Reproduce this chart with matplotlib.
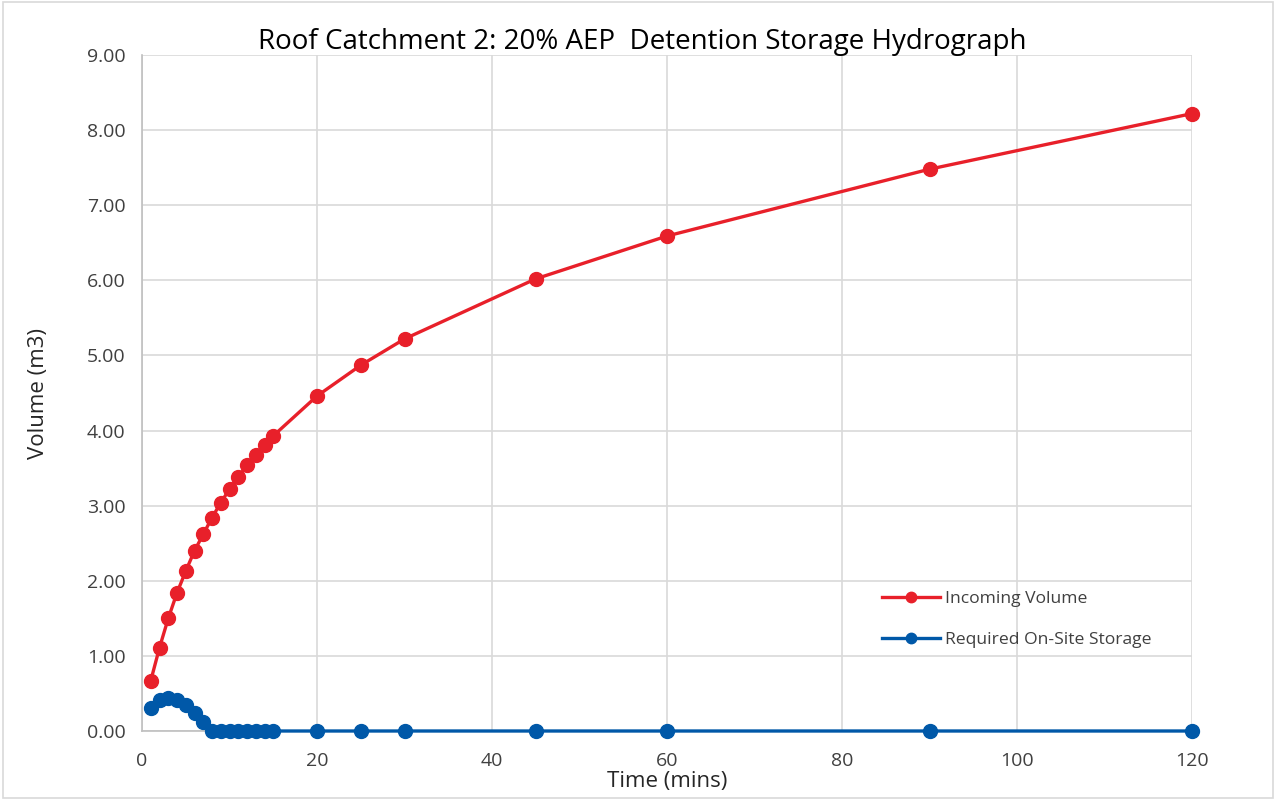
import matplotlib
matplotlib.use("Agg")
import matplotlib.pyplot as plt
from matplotlib.patches import Rectangle

plt.rcParams['font.family'] = ['Open Sans', 'DejaVu Sans']

time_mins = [1, 2, 3, 4, 5, 6, 7, 8, 9, 10, 11, 12, 13, 14, 15, 20, 25, 30, 45, 60, 90, 120]
incoming_volume = [0.67, 1.11, 1.50, 1.84, 2.13, 2.40, 2.62, 2.84, 3.04, 3.22, 3.38, 3.54,
                   3.68, 3.81, 3.93, 4.46, 4.87, 5.22, 6.02, 6.59, 7.48, 8.22]
required_storage = [0.31, 0.41, 0.44, 0.41, 0.35, 0.24, 0.12, 0.0, 0.0, 0.0, 0.0, 0.0,
                    0.0, 0.0, 0.0, 0.0, 0.0, 0.0, 0.0, 0.0, 0.0, 0.0]
x_ticks = [0, 20, 40, 60, 80, 100, 120]
y_ticks = [0, 1, 2, 3, 4, 5, 6, 7, 8, 9]

fig = plt.figure(figsize=(12.76, 8), dpi=100)
fig.patches.append(Rectangle((0.002, 0.002), 0.996, 0.996, transform=fig.transFigure,
                             fill=False, edgecolor='#d9d9d9', linewidth=1.2))
ax = fig.add_axes([0.1113, 0.08625, 0.8229, 0.845])

red = '#E8202A'
blue = '#0058A8'
ax.plot(time_mins, incoming_volume, color=red, lw=2.4, marker='o', ms=10,
        label='Incoming Volume', zorder=3, clip_on=False)
ax.plot(time_mins, required_storage, color=blue, lw=2.4, marker='o', ms=10,
        label='Required On-Site Storage', zorder=3, clip_on=False)

ax.set_xlim(0, 120)
ax.set_ylim(0, 9)
ax.set_xticks(x_ticks)
ax.set_yticks(y_ticks)
ax.set_yticklabels([f'{v:.2f}' for v in y_ticks])
ax.grid(True, color='#d9d9d9', lw=1.2)
ax.set_axisbelow(True)
for s in ['top', 'right']:
    ax.spines[s].set_visible(False)
for s in ['left', 'bottom']:
    ax.spines[s].set_color('#bfbfbf')
    ax.spines[s].set_linewidth(1.2)
ax.tick_params(axis='both', length=0, labelsize=14, colors='#404040')
ax.tick_params(axis='x', pad=15)
ax.tick_params(axis='y', pad=12)

ax.set_xlabel('Time (mins)', fontsize=16, color='#262626', labelpad=1)
ax.set_ylabel('Volume (m3)', fontsize=16, color='#262626', labelpad=27)
fig.text(0.503, 0.947, 'Roof Catchment 2: 20% AEP  Detention Storage Hydrograph',
         fontsize=20, color='#000000', ha='center', va='center')

leg = ax.legend(loc='lower left', bbox_to_anchor=(0.69, 0.1), frameon=False, fontsize=12.6,
                labelspacing=1.4, handlelength=3.3, handletextpad=0.3, markerscale=0.75)
for t in leg.get_texts():
    t.set_color('#404040')

fig.savefig('out.png', dpi=100)
